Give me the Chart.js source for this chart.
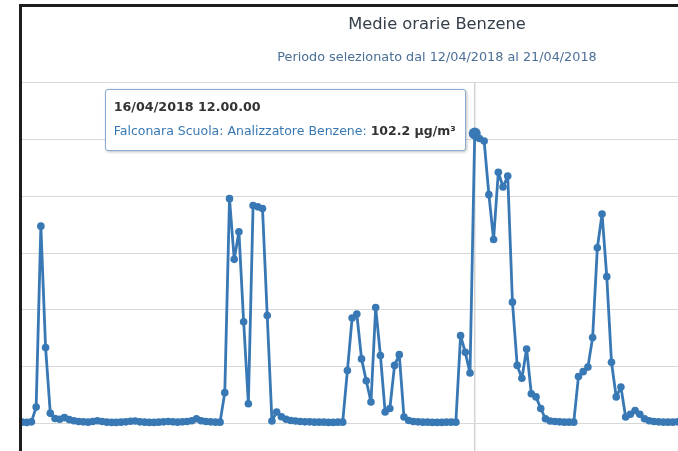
<!DOCTYPE html>
<html>
<head>
<meta charset="utf-8">
<script src="https://cdn.jsdelivr.net/npm/chart.js@4.4.0/dist/chart.umd.min.js"></script>
<style>
  html, body { margin: 0; padding: 0; background: #fff; overflow: hidden; width: 678px; height: 451px; }
  #wrap { position: absolute; left: 22px; top: 0; width: 830px; height: 490px; }
  #frame { position: absolute; left: 19px; top: 4px; width: 700px; height: 500px;
           border-left: 3px solid #1e1e1e; border-top: 3px solid #1e1e1e; pointer-events: none; z-index: 5; }
  #tip { position: absolute; opacity: 0; background: #fff; border: 1px solid #86acd6; border-radius: 3px;
         box-shadow: 1px 1px 3px rgba(0,0,0,0.25); padding: 9px 9px 11px 8px; white-space: nowrap;
         font-family: "DejaVu Sans", sans-serif; font-size: 12.5px; color: #333; z-index: 4; }
  #tip .tt { font-weight: bold; font-size: 12.7px; line-height: 16px; }
  #tip .tb { margin-top: 8px; line-height: 16px; }
</style>
</head>
<body>
<div id="wrap"><canvas id="benzeneChart"></canvas></div>
<div id="frame"></div>
<div id="tip"></div>
<script>
// ore dal 12/04/2018 12.00.00, un punto per ora
const startUtc = Date.UTC(2018, 3, 12, 12);
const hourCount = 177; // l'asse continua oltre il bordo destro visibile
const seriesName = 'Falconara Scuola: Analizzatore Benzene';
const unit = 'µg/m³';
const hoveredLabel = '16/04/2018 12.00.00';

const benzeneValues = [
  0.4, 0.3, 0.5, 5.7, 69.5, 26.7, 3.5, 1.7, 1.4, 2.0,
  1.3, 0.9, 0.6, 0.5, 0.4, 0.6, 0.9, 0.6, 0.4, 0.3,
  0.3, 0.4, 0.5, 0.7, 0.8, 0.5, 0.4, 0.3, 0.3, 0.4,
  0.5, 0.6, 0.5, 0.4, 0.5, 0.6, 0.9, 1.6, 0.9, 0.6,
  0.5, 0.4, 0.4, 10.8, 79.2, 57.8, 67.5, 35.8, 6.9, 76.8,
  76.3, 75.7, 38.0, 0.8, 4.0, 2.3, 1.4, 1.0, 0.8, 0.6,
  0.5, 0.5, 0.4, 0.4, 0.4, 0.3, 0.3, 0.4, 0.4, 18.6,
  37.1, 38.5, 22.7, 15.0, 7.5, 40.8, 23.9, 4.0, 5.2, 20.4,
  24.2, 2.2, 1.0, 0.6, 0.5, 0.4, 0.4, 0.3, 0.3, 0.3,
  0.4, 0.4, 0.4, 30.9, 25.0, 17.7, 102.2, 100.4, 99.5, 80.6,
  64.8, 88.5, 83.3, 87.2, 42.7, 20.4, 15.9, 26.2, 10.4, 9.3,
  5.2, 1.6, 0.8, 0.6, 0.5, 0.4, 0.4, 0.4, 16.5, 18.2,
  19.8, 30.2, 61.9, 73.8, 51.7, 21.5, 9.3, 12.8, 2.2, 3.2,
  4.5, 3.2, 1.6, 0.9, 0.6, 0.5, 0.4, 0.4, 0.4, 0.5,
  0.5
];

const yMin = -20, yMax = 120, yStep = 20;

function pad(n) { return n < 10 ? '0' + n : '' + n; }
const hourLabels = [];
for (let i = 0; i < hourCount; i++) {
  const d = new Date(startUtc + i * 3600000);
  hourLabels.push(pad(d.getUTCDate()) + '/' + pad(d.getUTCMonth() + 1) + '/' + d.getUTCFullYear() +
    ' ' + pad(d.getUTCHours()) + '.00.00');
}

const lineColor = '#3878b4';

function drawTip(context) {
  const tip = document.getElementById('tip');
  const model = context.tooltip;
  if (!model.opacity || !model.dataPoints || !model.dataPoints.length) {
    tip.style.opacity = 0;
    return;
  }
  const dp = model.dataPoints[0];
  tip.innerHTML = '<div class="tt">' + dp.label + '</div>' +
    '<div class="tb"><span style="color:' + lineColor + '">' + dp.dataset.label + ':</span> ' +
    '<b>' + dp.raw.toFixed(1) + ' ' + unit + '</b></div>';
  const rect = context.chart.canvas.getBoundingClientRect();
  tip.style.opacity = 1;
  tip.style.left = (rect.left + model.caretX - 9 - tip.offsetWidth) + 'px';
  tip.style.top = (rect.top + model.caretY - 44) + 'px';
}

// linea verticale del punto attivo
const crosshair = {
  id: 'crosshair',
  beforeDatasetsDraw(chart) {
    const act = chart.getActiveElements();
    if (!act.length) return;
    const x = act[0].element.x;
    const { top, bottom } = chart.chartArea;
    const ctx = chart.ctx;
    ctx.save();
    ctx.strokeStyle = '#d4d4d4';
    ctx.lineWidth = 1.5;
    ctx.beginPath();
    ctx.moveTo(x, top);
    ctx.lineTo(x, bottom);
    ctx.stroke();
    ctx.restore();
  }
};

const ctx = document.getElementById('benzeneChart').getContext('2d');
const chart = new Chart(ctx, {
  type: 'line',
  data: {
    labels: hourLabels,
    datasets: [{
      label: seriesName,
      data: benzeneValues,
      borderColor: lineColor,
      backgroundColor: lineColor,
      borderWidth: 2.8,
      borderJoinStyle: 'round',
      tension: 0,
      pointRadius: 3.8,
      pointBorderWidth: 0,
      pointBackgroundColor: lineColor,
      pointHoverRadius: 6,
      pointHoverBorderWidth: 0,
      pointHoverBackgroundColor: lineColor
    }]
  },
  options: {
    responsive: true,
    maintainAspectRatio: false,
    animation: false,
    events: [],
    layout: { autoPadding: false, padding: { left: 0, right: 0, top: 0, bottom: 10 } },
    plugins: {
      legend: { display: false },
      title: {
        display: true,
        text: 'Medie orarie Benzene',
        color: '#333e4a',
        font: { family: '"DejaVu Sans", sans-serif', size: 16.3, weight: 'normal' },
        padding: { top: 15, bottom: 0 }
      },
      subtitle: {
        display: true,
        text: 'Periodo selezionato dal 12/04/2018 al 21/04/2018',
        color: '#4a6f96',
        font: { family: '"DejaVu Sans", sans-serif', size: 12.8 },
        padding: { top: 15, bottom: 18 }
      },
      tooltip: { enabled: false, external: drawTip }
    },
    scales: {
      x: { display: false },
      y: {
        min: yMin,
        max: yMax,
        ticks: { display: false, stepSize: yStep, padding: 0 },
        grid: { color: '#d8d8d8', drawTicks: false },
        border: { display: false }
      }
    }
  },
  plugins: [crosshair]
});

const active = [{ datasetIndex: 0, index: hourLabels.indexOf(hoveredLabel) }];
chart.setActiveElements(active);
chart.tooltip.setActiveElements(active, { x: 0, y: 0 });
chart.update();
</script>
</body>
</html>
